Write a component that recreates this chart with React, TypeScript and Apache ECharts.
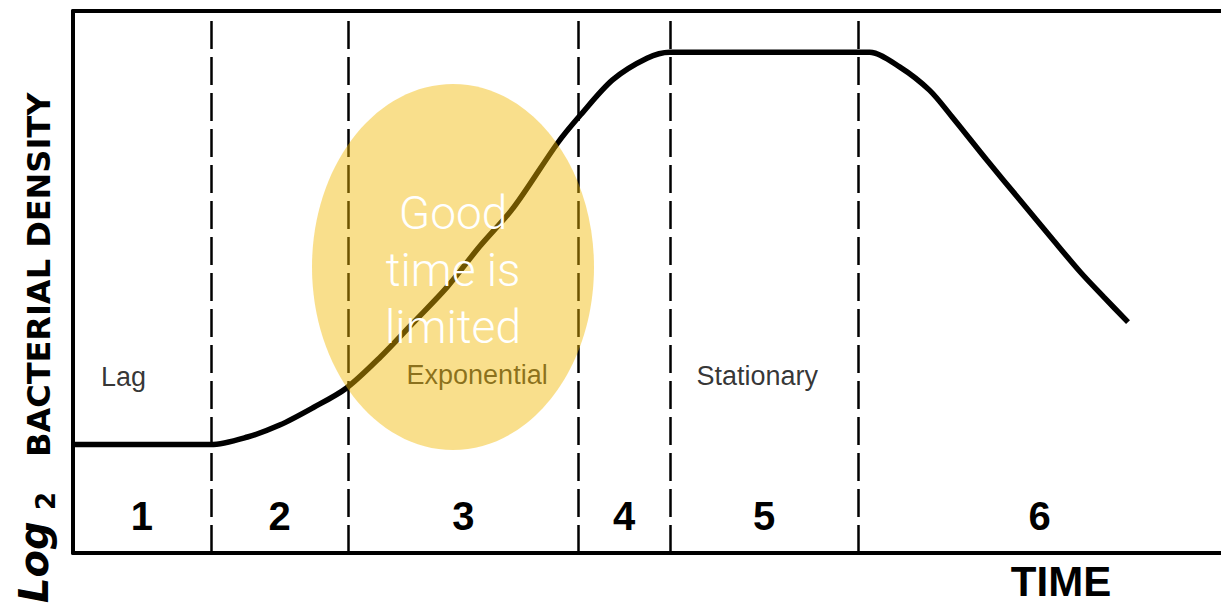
import React, { useEffect, useRef } from 'react';
import * as echarts from 'echarts';

// Phase boundaries along the time axis (arbitrary time units)
const phaseBounds = [0, 6, 12, 22, 26, 34.2, 50];
const phaseNumbers = ['1', '2', '3', '4', '5', '6'];

// Growth curve: time vs log2 bacterial density
const curveX = [0, 6, 7.6, 9.0, 10.45, 11.9, 13.4, 14.8, 16.3, 17.7, 19.2, 21.1, 22.1, 23.5, 25.0, 26.0, 34.2, 34.7, 36.0, 37.3, 38.3, 39.8, 41.25, 42.7, 43.9, 44.9, 45.95];
const curveY = [2.0, 2.0, 2.14, 2.36, 2.68, 3.04, 3.62, 4.24, 4.91, 5.65, 6.38, 7.56, 8.08, 8.73, 9.13, 9.24, 9.24, 9.24, 8.97, 8.54, 8.04, 7.25, 6.51, 5.77, 5.17, 4.72, 4.26];

// Phase names and where they sit
const phaseNames = ['Lag', 'Exponential', 'Stationary'];
const phaseNameX = [2.2, 17.6, 29.8];
const phaseNameY = [3.25, 3.28, 3.27];

const calloutText = 'Good\ntime is\nlimited';
const xTitle = 'TIME';

export default function App() {
  const ref = useRef<HTMLDivElement>(null);
  useEffect(() => {
    if (!ref.current) return;
    const chart = echarts.init(ref.current, undefined, { renderer: 'svg' });
    const axisCommon = {
      type: 'value' as const,
      axisLine: { show: true, onZero: false, lineStyle: { color: '#000', width: 4 } },
      axisTick: { show: false },
      axisLabel: { show: false },
      splitLine: { show: false },
    };
    chart.setOption({
      animation: false,
      backgroundColor: '#fff',
      grid: { left: 73, right: 0, top: 11, bottom: 51 },
      xAxis: [
        { ...axisCommon, min: phaseBounds[0], max: phaseBounds[phaseBounds.length - 1], position: 'bottom' },
        { ...axisCommon, min: phaseBounds[0], max: phaseBounds[phaseBounds.length - 1], position: 'top' },
      ],
      yAxis: { ...axisCommon, min: 0, max: 10 },
      series: [
        {
          type: 'line',
          data: curveX.map((x, i) => [x, curveY[i]]),
          smooth: 0.3,
          symbol: 'none',
          lineStyle: { color: '#000', width: 5.5 },
          z: 3,
          markLine: {
            silent: true,
            symbol: ['none', 'none'],
            label: { show: false },
            lineStyle: { color: '#000', width: 2.5, type: [28, 8] },
            data: phaseBounds.slice(1, -1).map((v) => ({ xAxis: v })),
          },
          markArea: {
            silent: true,
            itemStyle: { color: 'rgba(0,0,0,0)' },
            label: {
              show: true,
              position: 'insideBottom',
              distance: 17,
              color: '#000',
              fontFamily: 'Liberation Sans',
              fontWeight: 'bold',
              fontSize: 40,
            },
            data: phaseNumbers.map((n, i) => [
              { xAxis: phaseBounds[i], name: n },
              { xAxis: phaseBounds[i + 1] },
            ]),
          },
        },
        {
          type: 'scatter',
          silent: true,
          data: phaseNames.map((n, i) => [phaseNameX[i], phaseNameY[i], n]),
          symbolSize: 1,
          itemStyle: { color: 'rgba(0,0,0,0)' },
          label: {
            show: true,
            position: 'inside',
            formatter: (p: any) => p.value[2],
            color: '#000',
            fontFamily: 'Liberation Sans',
            fontSize: 27,
          },
          z: 4,
        },
      ],
      graphic: [
        {
          type: 'ellipse',
          shape: { cx: 453, cy: 267, rx: 141, ry: 183 },
          style: { fill: '#F2B800', opacity: 0.45 },
          z: 100,
          silent: true,
        },
        {
          type: 'text',
          x: 453,
          y: 270,
          z: 101,
          style: {
            text: calloutText,
            fill: '#fff',
            fontFamily: 'Roboto',
            fontWeight: 300,
            fontSize: 46,
            lineHeight: 57,
            align: 'center',
            verticalAlign: 'middle',
          },
        },
        {
          type: 'text',
          x: 1061,
          y: 581,
          z: 101,
          style: {
            text: xTitle,
            fill: '#000',
            fontFamily: 'Liberation Sans',
            fontWeight: 'bold',
            fontSize: 42,
            align: 'center',
            verticalAlign: 'middle',
          },
        },
        {
          type: 'group',
          x: 40,
          y: 604,
          rotation: Math.PI / 2,
          z: 101,
          children: [
            {
              type: 'text',
              x: 1,
              y: -6,
              style: { text: 'Log', fill: '#000', fontFamily: 'DejaVu Sans', fontStyle: 'italic', fontWeight: 'bold', fontSize: 40, align: 'left', verticalAlign: 'middle' },
            },
            {
              type: 'text',
              x: 94,
              y: 6,
              style: { text: '2', fill: '#000', fontFamily: 'DejaVu Sans', fontWeight: 'bold', fontSize: 26, align: 'left', verticalAlign: 'middle' },
            },
            {
              type: 'text',
              x: 147,
              y: -1,
              style: { text: 'BACTERIAL DENSITY', fill: '#000', fontFamily: 'DejaVu Sans', fontWeight: 'bold', fontSize: 32, align: 'left', verticalAlign: 'middle' },
            },
          ],
        },
      ],
    });
    return () => chart.dispose();
  }, []);
  return <div ref={ref} style={{ position: 'fixed', left: 0, top: 0, width: 1221, height: 604 }} />;
}
